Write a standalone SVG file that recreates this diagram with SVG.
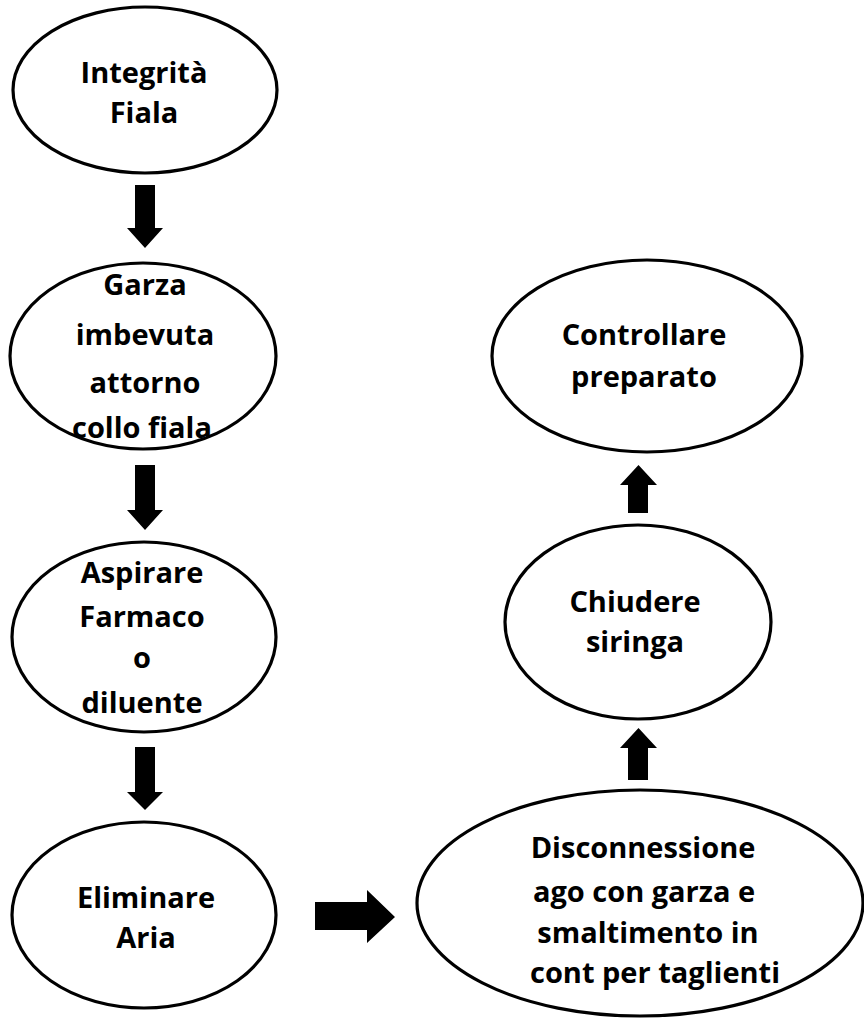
<svg xmlns="http://www.w3.org/2000/svg" width="864" height="1023" viewBox="0 0 864 1023">
<style>
.node ellipse{fill:#fff;stroke:#000;stroke-width:3.2}
.node text{font-family:"Open Sans","Liberation Sans",sans-serif;font-weight:700;font-size:29px;fill:#000;text-anchor:middle}
.arrow{fill:#000;stroke:none}
</style>
<rect width="864" height="1023" fill="#fff"/>
<g id="n1" class="node">
<ellipse cx="145" cy="90" rx="132" ry="83"/>
<text x="144" y="83">Integrità</text>
<text x="144" y="123">Fiala</text>
</g>
<g id="n2" class="node">
<ellipse cx="143" cy="356" rx="133" ry="93"/>
<text x="145" y="295">Garza</text>
<text x="145" y="345">imbevuta</text>
<text x="145" y="393">attorno</text>
<text x="142" y="438">collo fiala</text>
</g>
<g id="n3" class="node">
<ellipse cx="144" cy="637" rx="132" ry="95"/>
<text x="142" y="583">Aspirare</text>
<text x="142" y="627">Farmaco</text>
<text x="142" y="668">o</text>
<text x="142" y="713">diluente</text>
</g>
<g id="n4" class="node">
<ellipse cx="144" cy="915" rx="132" ry="93"/>
<text x="146" y="908">Eliminare</text>
<text x="146" y="948">Aria</text>
</g>
<g id="n5" class="node">
<ellipse cx="640" cy="903" rx="223" ry="113"/>
<text x="643" y="858">Disconnessione</text>
<text x="644" y="902">ago con garza e</text>
<text x="648" y="943">smaltimento in</text>
<text x="655" y="983">cont per taglienti</text>
</g>
<g id="n6" class="node">
<ellipse cx="638" cy="622" rx="133" ry="97"/>
<text x="635" y="612">Chiudere</text>
<text x="635" y="652">siringa</text>
</g>
<g id="n7" class="node">
<ellipse cx="647" cy="356" rx="155" ry="96"/>
<text x="644" y="345">Controllare</text>
<text x="644" y="387">preparato</text>
</g>
<g id="connectors">
<polygon class="arrow" points="135,185 155,185 155,228 163,228 145,248 127,228 135,228"/>
<polygon class="arrow" points="135,465 155,465 155,510 163,510 145,530 127,510 135,510"/>
<polygon class="arrow" points="135,747 155,747 155,792 163,792 145,810 127,792 135,792"/>
<polygon class="arrow" points="315,902 367,902 367,890 395,917 367,943 367,930 315,930"/>
<polygon class="arrow" points="628,780 648,780 648,748 657,748 638.5,728 620,748 628,748"/>
<polygon class="arrow" points="628,513 648,513 648,485 657,485 638.5,465 620,485 628,485"/>
</g>
</svg>
